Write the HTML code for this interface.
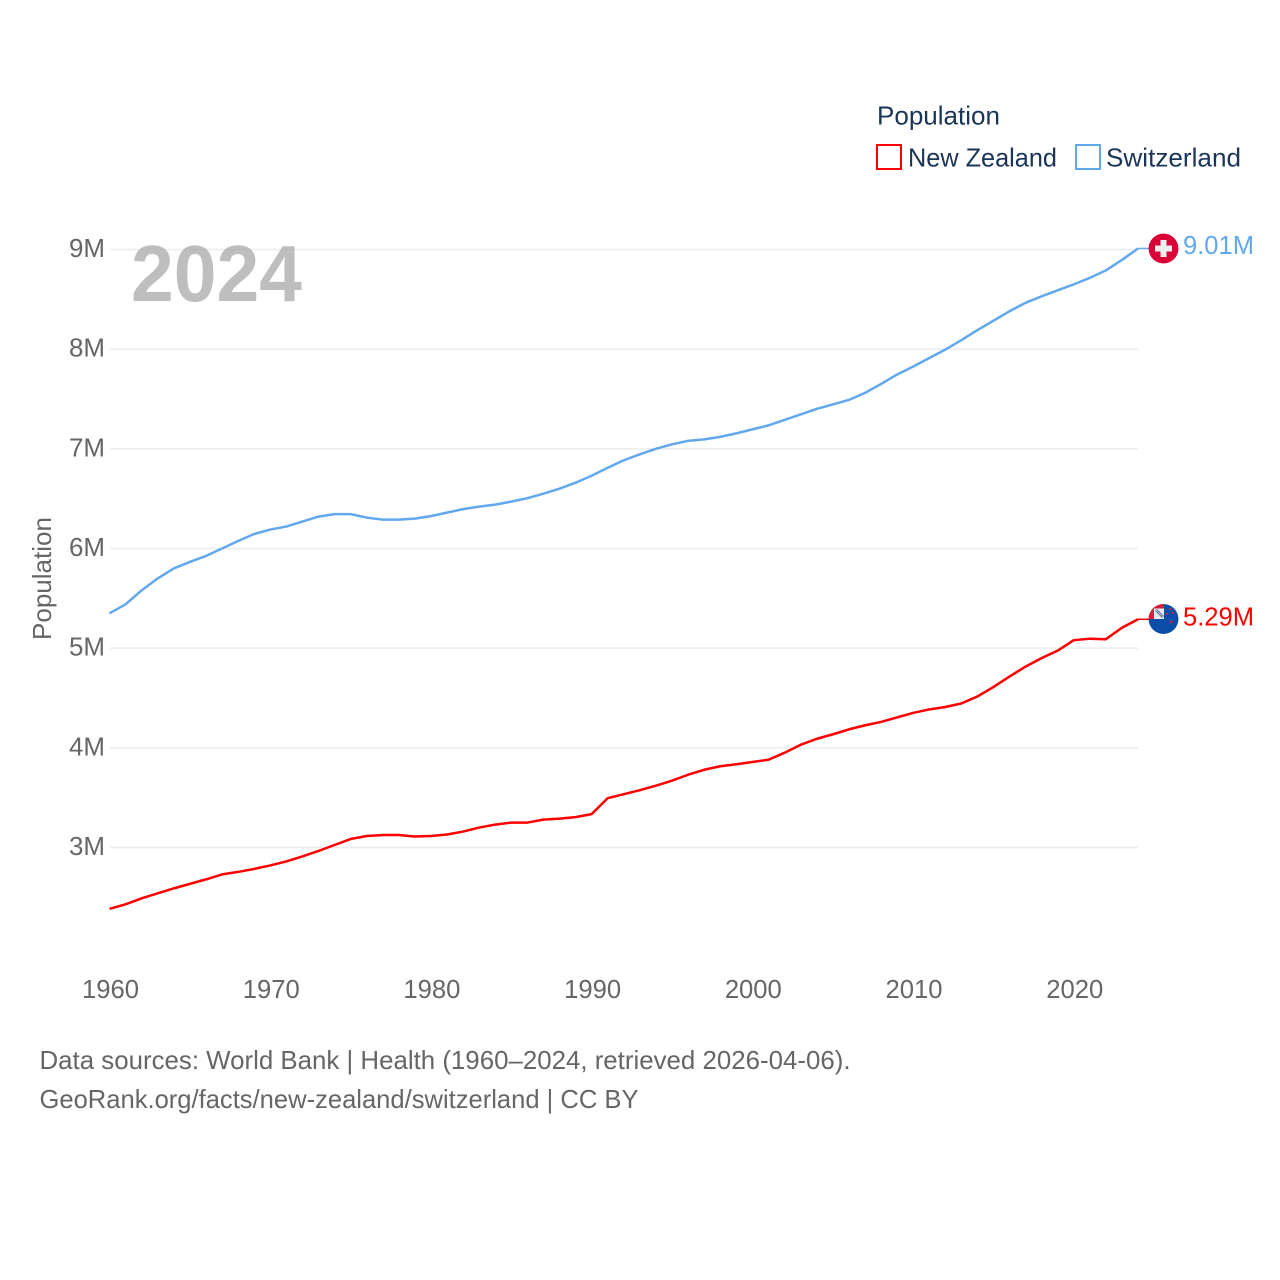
<!DOCTYPE html>
<html lang="en">
<head>
<meta charset="utf-8">
<title>Population: New Zealand and Switzerland</title>
<style>
html,body{margin:0;padding:0;background:#fff;}
svg{display:block;}
text{font-family:"Liberation Sans",sans-serif;}
</style>
</head>
<body>
<svg id="chart" width="1280" height="1280" viewBox="0 0 1280 1280" xmlns="http://www.w3.org/2000/svg">
  <defs>
    <clipPath id="flag-clip-ch"><circle cx="1163.5" cy="248.5" r="15"></circle></clipPath>
    <clipPath id="flag-clip-nz"><circle cx="1163.5" cy="619" r="15"></circle></clipPath>
  </defs>
  <rect x="0" y="0" width="1280" height="1280" fill="#ffffff"></rect>

  <g id="grid"></g>
  <g id="y-ticks"></g>
  <g id="x-ticks"></g>

  <text transform="translate(51,640) rotate(-90)" font-size="26" fill="#666666" textLength="123" lengthAdjust="spacingAndGlyphs">Population</text>

  <text x="131" y="301" font-size="80" font-weight="700" fill="#a8a8a8" fill-opacity="0.75" textLength="171" lengthAdjust="spacingAndGlyphs">2024</text>

  <g id="series"></g>

  <g>
    <text x="877" y="124.5" font-size="26" fill="#1a3557" textLength="123" lengthAdjust="spacingAndGlyphs">Population</text>
    <rect x="877" y="145" width="24" height="24" fill="none" stroke="#ff0000" stroke-width="2"></rect>
    <text x="908" y="166.5" font-size="26" fill="#1a3557" textLength="149" lengthAdjust="spacingAndGlyphs">New Zealand</text>
    <rect x="1076" y="145" width="24" height="24" fill="none" stroke="#62a8ee" stroke-width="2"></rect>
    <text x="1106" y="166.5" font-size="26" fill="#1a3557" textLength="135" lengthAdjust="spacingAndGlyphs">Switzerland</text>
  </g>

  <g clip-path="url(#flag-clip-ch)">
    <circle cx="1163.5" cy="248.5" r="15" fill="#da0037"></circle>
    <rect x="1160.5" y="240" width="6" height="17" fill="#eeeeee"></rect>
    <rect x="1155" y="245.5" width="17" height="6" fill="#eeeeee"></rect>
  </g>

  <g clip-path="url(#flag-clip-nz)">
    <circle cx="1163.5" cy="619" r="15" fill="#0a4ea8"></circle>
    <rect x="1148" y="604" width="16" height="15" fill="#f4f0f0"></rect>
    <rect x="1148" y="604" width="16" height="4.5" fill="#d81e3c"></rect>
    <rect x="1148" y="604" width="6" height="15" fill="#d81e3c"></rect>
    <rect x="1154" y="608.5" width="10" height="10.5" fill="#e6e8f0"></rect>
    <path d="M1156 610 L1163 617" stroke="#2d4f8f" stroke-width="2.4" fill="none"></path>
    <path d="M1156 610 L1163 617" stroke="#f4f0f0" stroke-width="0.8" fill="none"></path>
    <circle cx="1170" cy="609" r="1.1" fill="#e0203c"></circle>
    <circle cx="1167" cy="614" r="1.1" fill="#e0203c"></circle>
    <circle cx="1173" cy="613" r="1.1" fill="#e0203c"></circle>
    <circle cx="1171" cy="622" r="1.2" fill="#e0203c"></circle>
  </g>

  <g id="end-labels"></g>

  <g>
    <text x="39.5" y="1069" font-size="26" fill="#666666" textLength="811" lengthAdjust="spacingAndGlyphs">Data sources: World Bank | Health (1960–2024, retrieved 2026-04-06).</text>
    <text x="39.5" y="1108" font-size="26" fill="#666666" textLength="599" lengthAdjust="spacingAndGlyphs">GeoRank.org/facts/new-zealand/switzerland | CC BY</text>
  </g>
</svg>

<script>
const years = [1960,1961,1962,1963,1964,1965,1966,1967,1968,1969,1970,1971,1972,1973,1974,1975,1976,1977,1978,1979,1980,1981,1982,1983,1984,1985,1986,1987,1988,1989,1990,1991,1992,1993,1994,1995,1996,1997,1998,1999,2000,2001,2002,2003,2004,2005,2006,2007,2008,2009,2010,2011,2012,2013,2014,2015,2016,2017,2018,2019,2020,2021,2022,2023,2024];
const switzerlandValues = [5.35,5.44,5.58,5.70,5.80,5.865,5.925,6.00,6.075,6.145,6.19,6.22,6.27,6.32,6.345,6.345,6.31,6.29,6.29,6.30,6.325,6.36,6.395,6.42,6.44,6.47,6.505,6.55,6.60,6.66,6.73,6.81,6.885,6.945,7.00,7.045,7.08,7.095,7.12,7.155,7.195,7.235,7.29,7.345,7.40,7.445,7.49,7.56,7.65,7.745,7.825,7.91,7.995,8.09,8.19,8.285,8.38,8.465,8.53,8.59,8.65,8.715,8.79,8.895,9.01];
const newZealandValues = [2.385,2.43,2.49,2.54,2.59,2.635,2.68,2.73,2.755,2.785,2.82,2.86,2.91,2.965,3.025,3.085,3.115,3.125,3.125,3.11,3.115,3.13,3.16,3.20,3.23,3.25,3.25,3.28,3.29,3.305,3.335,3.495,3.535,3.575,3.62,3.67,3.73,3.78,3.815,3.835,3.858,3.88,3.95,4.03,4.09,4.135,4.185,4.225,4.26,4.305,4.35,4.385,4.41,4.445,4.515,4.61,4.715,4.815,4.90,4.975,5.08,5.095,5.09,5.205,5.29];
const yTickValues = [3,4,5,6,7,8,9];
const yTickLabels = ["3M","4M","5M","6M","7M","8M","9M"];
const xTickLabels = [1960,1970,1980,1990,2000,2010,2020];

const NS = "http://www.w3.org/2000/svg";
function xScale(year){ return 109.5 + (year - 1960) * (1028.5 / 64); }
function yScale(value){ return 847.5 - (value - 3) * 99.67; }

const gridGroup = document.getElementById("grid");
const yTickGroup = document.getElementById("y-ticks");
const xTickGroup = document.getElementById("x-ticks");
const seriesGroup = document.getElementById("series");
const endGroup = document.getElementById("end-labels");

yTickValues.forEach(function(v, i){
  const line = document.createElementNS(NS, "line");
  
  
  line.setAttribute("x1", 110);
  line.setAttribute("x2", 1138);
  line.setAttribute("y1", yScale(v));
  line.setAttribute("y2", yScale(v));
  line.setAttribute("stroke", "#ececec");
  line.setAttribute("stroke-width", "1.5");
  gridGroup.appendChild(line);

  const t = document.createElementNS(NS, "text");
  
  
  t.setAttribute("x", 69);
  t.setAttribute("y", yScale(v) + 7.5);
  t.setAttribute("font-size", "26");
  t.setAttribute("fill", "#666666");
  t.setAttribute("textLength", "36");
  t.setAttribute("lengthAdjust", "spacingAndGlyphs");
  t.textContent = yTickLabels[i];
  yTickGroup.appendChild(t);
});

xTickLabels.forEach(function(year){
  const t = document.createElementNS(NS, "text");
  
  
  t.setAttribute("x", xScale(year) - 27.5);
  t.setAttribute("y", 998);
  t.setAttribute("font-size", "26");
  t.setAttribute("fill", "#666666");
  t.setAttribute("textLength", "57");
  t.setAttribute("lengthAdjust", "spacingAndGlyphs");
  t.textContent = year;
  xTickGroup.appendChild(t);
});

function drawSeries(values, color, slug, labelOffset){
  const pts = values.map(function(v, i){ return xScale(years[i]).toFixed(2) + "," + yScale(v).toFixed(2); });
  const path = document.createElementNS(NS, "polyline");
  
  
  path.setAttribute("points", pts.join(" "));
  path.setAttribute("fill", "none");
  path.setAttribute("stroke", color);
  path.setAttribute("stroke-width", "2.5");
  path.setAttribute("stroke-linejoin", "round");
  seriesGroup.appendChild(path);

  const last = values[values.length - 1];
  const lastX = xScale(years[years.length - 1]);
  const lead = document.createElementNS(NS, "line");
  
  
  lead.setAttribute("x1", lastX);
  lead.setAttribute("x2", lastX + 11);
  lead.setAttribute("y1", yScale(last));
  lead.setAttribute("y2", yScale(last));
  lead.setAttribute("stroke", color);
  lead.setAttribute("stroke-width", "1.5");
  seriesGroup.appendChild(lead);

  const label = document.createElementNS(NS, "text");
  
  
  label.setAttribute("x", 1183);
  label.setAttribute("y", yScale(last) + labelOffset);
  label.setAttribute("font-size", "26");
  label.setAttribute("fill", color);
  label.setAttribute("textLength", "71");
  label.setAttribute("lengthAdjust", "spacingAndGlyphs");
  label.textContent = last.toFixed(2) + "M";
  endGroup.appendChild(label);
}

drawSeries(switzerlandValues, "#62a8ee", "switzerland", 5.5);
drawSeries(newZealandValues, "#ff0000", "new-zealand", 6);
</script>
</body>
</html>
